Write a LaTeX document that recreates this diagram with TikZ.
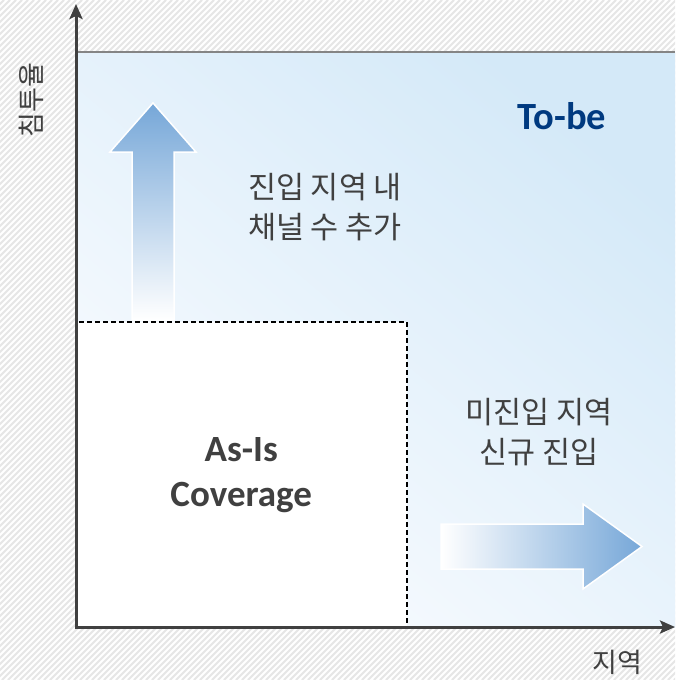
\documentclass[tikz,border=0pt]{standalone}
\usepackage{fontspec}
\setmainfont{Carlito}
\newfontfamily\krfont{Noto Sans CJK KR}
\usetikzlibrary{arrows.meta}
\definecolor{axisgray}{HTML}{404040}
\definecolor{txtgray}{HTML}{404040}
\definecolor{hatchgray}{HTML}{E6E6E6}
\definecolor{blueA}{HTML}{FAFCFF}
\definecolor{blueB}{HTML}{D4E9F8}
\definecolor{arrowblue}{HTML}{76A7D8}
\definecolor{tobeblue}{HTML}{003A80}
\definecolor{topline}{HTML}{858585}
\tikzset{
  axisline/.style={draw=axisgray, line width=3pt, -{Stealth[length=15pt,width=13pt,inset=3pt]}},
  krtext/.style={font=\krfont\fontsize{30.5}{40}\selectfont, text=txtgray, align=center, inner sep=0pt},
  krlabel/.style={font=\krfont\fontsize{27}{30}\selectfont, text=txtgray, inner sep=0pt},
  bigarrow/.style={draw=white, line width=1.5pt},
}
\begin{document}
\begin{tikzpicture}[x=1pt,y=-1pt]
\useasboundingbox (0,0) rectangle (675,680);
\fill[white] (0,0) rectangle (675,680);
\begin{scope}
\clip (0,0) rectangle (675,680);
\foreach \i in {-700,-694,...,700} \draw[hatchgray, line width=2pt] (\i,680) -- (\i+680,0);
\end{scope}
% blue field
\shade[bottom color=blueA, top color=blueB, shading angle=-40] (77,52) rectangle (675,627);
\draw[topline, line width=2pt] (77,52) -- (675,52);
% arrows
\shade[bigarrow, top color=arrowblue, middle color=arrowblue!50!white, bottom color=white]
  (132,320) -- (132,152) -- (110,152) -- (153,103) -- (196,152) -- (174,152) -- (174,320) -- cycle;
\shade[bigarrow, left color=white, right color=arrowblue]
  (441,524) -- (583,524) -- (583,504) -- (642,546.5) -- (583,589) -- (583,569) -- (441,569) -- cycle;
% as-is box
\node[draw=black, dashed, dash pattern=on 5pt off 3pt, line width=1.5pt, fill=white,
      minimum width=331pt, minimum height=306pt, anchor=north west, align=center,
      font=\bfseries\fontsize{37}{45}\selectfont, text=txtgray] (asis) at (75,321) {As-Is\\Coverage};
% axes
\coordinate (origin) at (76,627);
\coordinate (ytip) at (76,4);
\coordinate (xtip) at (675,627);
\draw[axisline] ([yshift=-1.5pt]origin) -- (ytip);
\draw[axisline] ([xshift=-1.5pt]origin) -- (xtip);
% texts
\node[font=\bfseries\fontsize{38.5}{44}\selectfont, text=tobeblue, inner sep=0pt] (tobe) at (562,116) {To-be};
\node[krtext] (vertical) at (325,207) {진입 지역 내\\채널 수 추가};
\node[krtext] (horizontal) at (539,432) {미진입 지역\\신규 진입};
\node[krlabel, rotate=90] (ylab) at (31,100) {침투율};
\node[krlabel] (xlab) at (617,662) {지역};
\end{tikzpicture}
\end{document}
